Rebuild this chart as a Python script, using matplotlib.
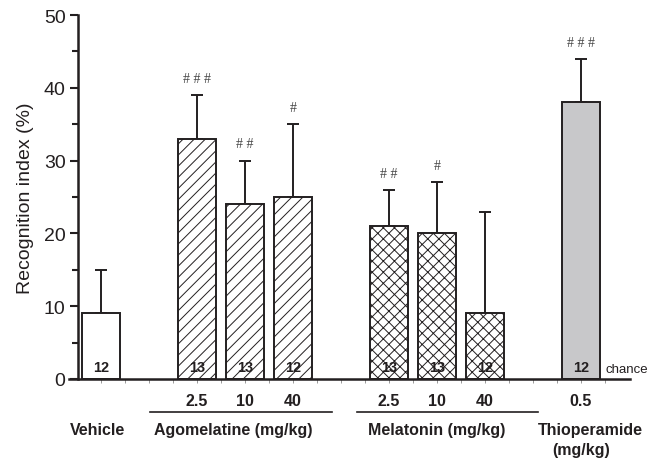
import numpy as np
import matplotlib
matplotlib.use("Agg")
import matplotlib.pyplot as plt

# data
positions = [0, 2, 3, 4, 6, 7, 8, 10]
means = [9, 33, 24, 25, 21, 20, 9, 38]
err_up = [6, 6, 6, 10, 5, 7, 14, 6]
n_animals = ["12", "13", "13", "12", "13", "13", "12", "12"]
signif = ["", "# # #", "# #", "#", "# #", "#", "", "# # #"]
dose_labels = ["", "2.5", "10", "40", "2.5", "10", "40", "0.5"]
hatches = ["", "///", "///", "///", "xxx", "xxx", "xxx", ""]
fills = ["white"] * 7 + ["#c8c8ca"]

plt.rcParams['font.family'] = ['Liberation Sans', 'DejaVu Sans']
plt.rcParams['hatch.linewidth'] = 0.7
ink = "#231f20"
lab_size = 11.5

fig = plt.figure(figsize=(6.47, 4.60), dpi=100)
ax = fig.add_axes([0.1206, 0.174, 0.853, 0.791])

for i in range(len(positions)):
    ax.bar(positions[i], means[i], width=0.8, color=fills[i], edgecolor=ink,
           linewidth=1.4, hatch=hatches[i], zorder=2)
    ax.errorbar(positions[i], means[i], yerr=[[0], [err_up[i]]], fmt='none',
                ecolor=ink, elinewidth=1.4, capsize=4.5, capthick=1.4, zorder=1)
    ax.text(positions[i], 1.7, n_animals[i], ha='center', va='center',
            fontsize=10.5, fontweight='bold', color=ink, zorder=3)
    if signif[i]:
        ax.text(positions[i], means[i] + err_up[i] + 2.3, signif[i], ha='center',
                va='center', fontsize=10, color="#444444",
                family=['Liberation Serif', 'DejaVu Serif'])
    ax.text(positions[i], -2.9, dose_labels[i], ha='center', va='center',
            fontsize=lab_size, fontweight='bold', color=ink, clip_on=False)

ax.set_xlim(-0.48, 11.02)
ax.set_ylim(0, 50)

for s in ['top', 'right']:
    ax.spines[s].set_visible(False)
ax.spines['left'].set_linewidth(1.8)
ax.spines['left'].set_color(ink)
ax.spines['bottom'].set_visible(False)
ax.plot([-0.66, 11.02], [0, 0], color=ink, linewidth=1.8, clip_on=False, zorder=4)

ax.set_yticks([0, 10, 20, 30, 40, 50])
ax.set_yticks([5, 15, 25, 35, 45], minor=True)
ax.tick_params(axis='y', which='major', length=6, width=1.5, color=ink,
               labelsize=14, labelcolor=ink, pad=3)
ax.tick_params(axis='y', which='minor', length=4, width=1.5, color=ink)
ax.set_xticks(np.arange(0, 11, 0.5))
ax.set_xticklabels([])
ax.tick_params(axis='x', length=3, width=0.6, color="#888888")
ax.set_ylabel("Recognition index (%)", fontsize=14, color=ink, labelpad=7)

ax.text(10.52, 1.4, "chance", ha='left', va='center', fontsize=9.5, color=ink,
        clip_on=False)

# group lines and labels
ax.plot([1.02, 4.81], [-4.5, -4.5], color=ink, linewidth=1.2, clip_on=False)
ax.plot([5.33, 9.1], [-4.5, -4.5], color=ink, linewidth=1.2, clip_on=False)
ax.text(-0.08, -7.0, "Vehicle", ha='center', va='center', fontsize=lab_size,
        fontweight='bold', color=ink, clip_on=False)
ax.text(2.75, -7.0, "Agomelatine (mg/kg)", ha='center', va='center',
        fontsize=lab_size, fontweight='bold', color=ink, clip_on=False)
ax.text(7.0, -7.0, "Melatonin (mg/kg)", ha='center', va='center',
        fontsize=lab_size, fontweight='bold', color=ink, clip_on=False)
ax.text(10.2, -7.0, "Thioperamide", ha='center', va='center', fontsize=lab_size,
        fontweight='bold', color=ink, clip_on=False)
ax.text(10.0, -9.75, "(mg/kg)", ha='center', va='center', fontsize=lab_size,
        fontweight='bold', color=ink, clip_on=False)

fig.savefig("out.png", dpi=100)
